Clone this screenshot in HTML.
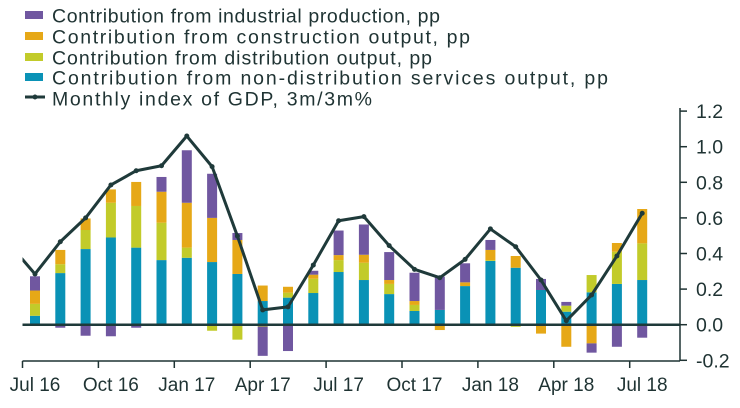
<!DOCTYPE html>
<html><head><meta charset="utf-8"><style>
body{margin:0;background:#fff;}
svg{display:block;font-family:"Liberation Sans",sans-serif;}
</style></head><body>
<svg id="c" width="740" height="408" viewBox="0 0 740 408" xmlns="http://www.w3.org/2000/svg">
<g id="legend">
 <g><rect x="25" y="11" width="18" height="8" fill="#7057a0"/><text x="52" y="22.5" font-size="19.5" fill="#1f3333" textLength="388">Contribution from industrial production, pp</text></g>
 <g><rect x="25" y="32" width="18" height="8" fill="#e6a817"/><text x="52" y="43.5" font-size="19.5" fill="#1f3333" textLength="418">Contribution from construction output, pp</text></g>
 <g><rect x="25" y="53" width="18" height="8" fill="#c2cb2a"/><text x="52" y="64.5" font-size="19.5" fill="#1f3333" textLength="380">Contribution from distribution output, pp</text></g>
 <g><rect x="25" y="73" width="18" height="8" fill="#0a92b6"/><text x="52" y="84.5" font-size="19.5" fill="#1f3333" textLength="556">Contribution from non-distribution services output, pp</text></g>
 <g><line x1="25" y1="97" x2="45" y2="97" stroke="#1f3a3a" stroke-width="3"/><circle cx="35" cy="97" r="2.5" fill="#1f3a3a"/><text x="52" y="105.5" font-size="19.5" fill="#1f3333" textLength="320">Monthly index of GDP, 3m/3m%</text></g>
</g>
<g id="plot"></g>
</svg>
<script>
const months=["Jul 16","Aug 16","Sep 16","Oct 16","Nov 16","Dec 16","Jan 17","Feb 17","Mar 17","Apr 17","May 17","Jun 17","Jul 17","Aug 17","Sep 17","Oct 17","Nov 17","Dec 17","Jan 18","Feb 18","Mar 18","Apr 18","May 18","Jun 18","Jul 18"];
const nonDist=[0.05,0.29,0.425,0.49,0.433,0.363,0.376,0.352,0.285,0.133,0.152,0.178,0.296,0.251,0.172,0.077,0.083,0.217,0.358,0.32,0.195,0.073,0.182,0.229,0.251];
const distrib=[0.067,0.05,0.107,0.195,0.234,0.21,0.057,-0.034,-0.084,-0.01,0.028,0.08,0.067,0.097,0.057,0.034,0,-0.005,0.005,-0.012,0,0.034,0.097,0.181,0.206];
const constr=[0.075,0.08,0.065,0.075,0.135,0.174,0.252,0.248,0.191,0.087,0.033,0.023,0.028,0.045,0.022,0.022,-0.03,0.021,0.057,0.066,-0.05,-0.124,-0.105,0.049,0.193];
const industr=[0.08,-0.017,-0.062,-0.065,-0.017,0.083,0.295,0.248,0.039,-0.165,-0.148,0.022,0.138,0.17,0.157,0.159,0.187,0.107,0.056,0,0.062,0.021,-0.052,-0.124,-0.073];
const gdpPrev=0.45;
const gdp=[0.285,0.466,0.6,0.785,0.865,0.893,1.06,0.888,0.498,0.083,0.1,0.335,0.584,0.607,0.444,0.311,0.264,0.367,0.538,0.438,0.251,0.022,0.167,0.386,0.626];
const yTicks=[1.2,1.0,0.8,0.6,0.4,0.2,0.0,-0.2];
const xLabels=["Jul 16","Oct 16","Jan 17","Apr 17","Jul 17","Oct 17","Jan 18","Apr 18","Jul 18"];

const NS="http://www.w3.org/2000/svg";
const plot=document.getElementById('plot');
const X0=22.5, X1=680, STEP=25.3;
function xs(i){return 35+i*STEP;}
function ys(v){return 324.7-v*178;}
function mk(t,a,p){const e=document.createElementNS(NS,t);for(const k in a)e.setAttribute(k,a[k]);(p||plot).appendChild(e);return e;}
const defs=mk('defs',{});const cp=mk('clipPath',{id:'clip'},defs);mk('rect',{x:X0,y:100,width:X1-X0,height:270},cp);

const series=[[nonDist,'#0a92b6','non-distribution'],[distrib,'#c2cb2a','distribution'],[constr,'#e6a817','construction'],[industr,'#7057a0','industrial']];
months.forEach((m,i)=>{
  let pos=0,neg=0;
  series.forEach(([arr,col,nm])=>{
    const v=arr[i]; if(!v) return;
    let y0,y1;
    if(v>0){y0=pos;y1=pos+v;pos=y1;}else{y0=neg;y1=neg+v;neg=y1;}
    const r=mk('rect',{x:xs(i)-5,y:Math.min(ys(y0),ys(y1)),width:10,height:Math.abs(ys(y0)-ys(y1)),fill:col});
    
    
  });
});
const z=mk('line',{x1:X0,x2:X1,y1:ys(0),y2:ys(0),stroke:'#1f3a3a','stroke-width':2.5});


let pts=[[xs(-1),ys(gdpPrev)]].concat(gdp.map((v,i)=>[xs(i),ys(v)]));
const pl=mk('polyline',{points:pts.map(p=>p.join(',')).join(' '),fill:'none',stroke:'#1f3a3a','stroke-width':3,'stroke-linejoin':'round','clip-path':'url(#clip)'});


gdp.forEach((v,i)=>{const c=mk('circle',{cx:xs(i),cy:ys(v),r:2.5,fill:'#1f3a3a'});

});
const ya=mk('line',{x1:X1,x2:X1,y1:108,y2:361,stroke:'#1f3333','stroke-width':1.5});


yTicks.forEach(t=>{
  mk('line',{x1:X1,x2:X1+7,y1:ys(t),y2:ys(t),stroke:'#1f3333','stroke-width':1.5});
  const tx=mk('text',{x:696,y:ys(t)+7,'font-size':19.5,fill:'#1f3333'});tx.textContent=t.toFixed(1);
  
  
});
const xa=mk('line',{x1:X0,x2:X1,y1:361,y2:361,stroke:'#1f3333','stroke-width':1.5});


for(let k=0;k<9;k++){mk('line',{x1:X0+k*3*STEP,x2:X0+k*3*STEP,y1:361,y2:368,stroke:'#1f3333','stroke-width':1.5});}
xLabels.forEach(l=>{
  const i=months.indexOf(l);
  const tx=mk('text',{x:xs(i),y:391,'font-size':19,fill:'#1f3333','text-anchor':'middle'});tx.textContent=l;
  
  
});
</script>
</body></html>
